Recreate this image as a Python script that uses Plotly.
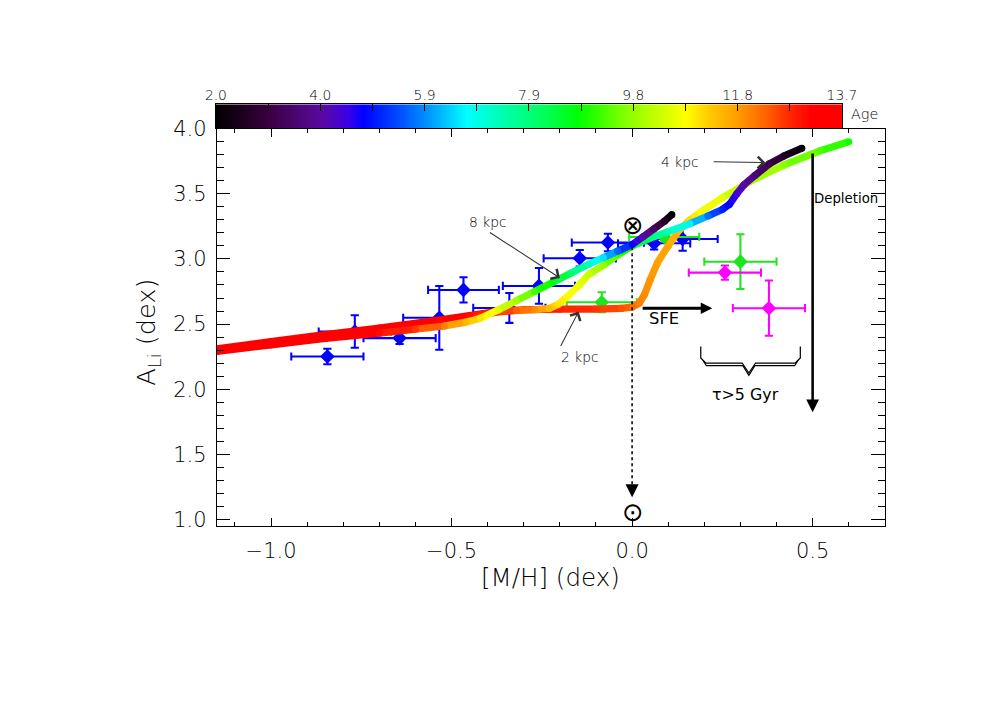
import numpy as np
import plotly.graph_objects as go

FONT = "DejaVu Sans"
W, H = 1000, 706
# the page is photographed slightly scaled/offset: compensate target pixel positions
S, OX, OY = 0.977, 17.5, 19.5


def PX(t):
    return (t - OX) / S / W


def PY(t):
    return 1 - (t - OY) / S / H


def F(sz):
    return sz / S


# ---------------- colour table (age in Gyr) ----------------
AGE_MIN, AGE_MAX = 2.0, 13.7
cs_pos = [0.0, 0.085, 0.17, 0.21, 0.235, 0.295, 0.345, 0.40, 0.47, 0.52, 0.58, 0.65, 0.75, 0.79, 0.83, 0.88, 0.915, 0.95, 1.0]
cs_hex = ['#000000', '#3a0040', '#5a0aa0', '#3c00e6', '#0000ff', '#0050ff', '#00a0ff', '#00ffff',
          '#00ffa0', '#00ff60', '#00ff00', '#80ff00', '#ffff00', '#ffc800', '#ffa000', '#ff6000',
          '#ff2800', '#ff0000', '#ff0000']
colorscale = [[p, c] for p, c in zip(cs_pos, cs_hex)]


def hex2rgb(h):
    h = h.lstrip('#')
    return np.array([int(h[i:i + 2], 16) for i in (0, 2, 4)], dtype=float)


cs_rgb = np.array([hex2rgb(c) for c in cs_hex])


def age_color(age):
    f = (age - AGE_MIN) / (AGE_MAX - AGE_MIN)
    f = min(max(f, 0.0), 1.0)
    rgb = [np.interp(f, cs_pos, cs_rgb[:, k]) for k in range(3)]
    return 'rgb(%d,%d,%d)' % tuple(int(round(v)) for v in rgb)


# ---------------- model tracks ----------------
kpc2_mh = [-1.15, -1.0, -0.85, -0.7, -0.55, -0.45, -0.38, -0.3, -0.2, -0.1, -0.03, 0.0, 0.02, 0.035,
           0.05, 0.07, 0.10, 0.13, 0.16, 0.19, 0.25, 0.33, 0.42, 0.52, 0.60]
kpc2_ali = [2.31, 2.365, 2.42, 2.47, 2.525, 2.565, 2.595, 2.61, 2.615, 2.615, 2.62, 2.63, 2.66, 2.73,
            2.84, 2.97, 3.10, 3.22, 3.30, 3.36, 3.47, 3.60, 3.72, 3.83, 3.90]
kpc2_age = [13.7, 13.7, 13.7, 13.6, 13.5, 13.4, 13.2, 13.0, 12.8, 12.6, 12.4, 12.2, 12.0, 11.9,
            11.8, 11.7, 11.6, 11.4, 11.1, 10.8, 10.5, 10.1, 9.7, 9.3, 8.9]

kpc4_mh = [-1.15, -1.0, -0.85, -0.7, -0.55, -0.45, -0.38, -0.32, -0.27, -0.23, -0.205, -0.18, -0.15,
           -0.12, -0.08, -0.04, 0.0, 0.05, 0.10, 0.16, 0.21, 0.25, 0.27, 0.29, 0.31, 0.34, 0.38, 0.42, 0.47]
kpc4_ali = [2.30, 2.355, 2.41, 2.46, 2.515, 2.56, 2.59, 2.605, 2.61, 2.62, 2.65, 2.71, 2.79,
            2.88, 2.95, 3.03, 3.10, 3.16, 3.21, 3.27, 3.33, 3.38, 3.42, 3.50, 3.57, 3.64, 3.73, 3.79, 3.85]
kpc4_age = [13.7, 13.7, 13.6, 13.5, 13.3, 13.0, 12.7, 12.3, 11.9, 11.4, 11.0, 10.8, 10.6,
            10.3, 9.8, 9.2, 8.7, 8.0, 7.3, 6.6, 5.7, 5.0, 4.7, 4.4, 4.0, 3.6, 3.1, 2.6, 2.0]

kpc8_mh = [-1.15, -1.0, -0.85, -0.7, -0.6, -0.52, -0.46, -0.42, -0.37, -0.32, -0.27, -0.22, -0.17,
           -0.12, -0.08, -0.04, 0.0, 0.03, 0.06, 0.09, 0.11]
kpc8_ali = [2.29, 2.34, 2.39, 2.43, 2.46, 2.485, 2.515, 2.545, 2.61, 2.68, 2.75, 2.82, 2.89,
            2.96, 3.01, 3.06, 3.11, 3.17, 3.23, 3.29, 3.34]
kpc8_age = [13.7, 13.6, 13.4, 13.0, 12.6, 12.0, 11.4, 11.0, 10.5, 9.9, 9.2, 8.7, 8.0,
            7.2, 6.5, 5.6, 4.8, 4.1, 3.4, 2.6, 2.0]

# ---------------- observations ----------------
blue_mh = [-0.844, -0.644, -0.534, -0.768, -0.467, -0.340, -0.258, -0.145, -0.067, 0.061, 0.140]
blue_ali = [2.251, 2.392, 2.548, 2.443, 2.762, 2.624, 2.793, 3.005, 3.126, 3.120, 3.153]
blue_xerr = [0.10, 0.10, 0.10, 0.10, 0.098, 0.10, 0.10, 0.10, 0.10, 0.10, 0.097]
blue_yerr = [0.06, 0.045, 0.245, 0.125, 0.097, 0.115, 0.137, 0.064, 0.067, 0.048, 0.09]

green_mh = [-0.084, 0.089, 0.300]
green_ali = [2.667, 3.169, 2.979]
green_xerr = [0.097, 0.097, 0.10]
green_yerr = [0.077, 0.03, 0.21]

mag_mh = [0.257, 0.379]
mag_ali = [2.895, 2.622]
mag_xerr = [0.10, 0.10]
mag_yerr = [0.054, 0.212]

# colour bar
cb_ticks = [2.0, 3.95, 5.9, 7.85, 9.8, 11.75, 13.7]
cb_labels = ['2.0', '4.0', '5.9', '7.9', '9.8', '11.8', '13.7']

fig = go.Figure()

for xs, ys, ex, ey, col in [(blue_mh, blue_ali, blue_xerr, blue_yerr, '#0000ff'),
                            (green_mh, green_ali, green_xerr, green_yerr, '#1ee61e'),
                            (mag_mh, mag_ali, mag_xerr, mag_yerr, '#ff00ff')]:
    fig.add_trace(go.Scatter(
        x=xs, y=ys, mode='markers',
        marker=dict(symbol='diamond', size=F(11), color=col, line=dict(width=0)),
        error_x=dict(type='data', array=ex, color=col, thickness=F(2), width=F(4)),
        error_y=dict(type='data', array=ey, color=col, thickness=F(2), width=F(4)),
        showlegend=False, hoverinfo='skip'))

for xs, ys, ages in [(kpc2_mh, kpc2_ali, kpc2_age), (kpc4_mh, kpc4_ali, kpc4_age),
                     (kpc8_mh, kpc8_ali, kpc8_age)]:
    for i in range(len(xs) - 1):
        fig.add_trace(go.Scatter(
            x=[xs[i], xs[i + 1]], y=[ys[i], ys[i + 1]], mode='lines',
            line=dict(color=age_color(0.5 * (ages[i] + ages[i + 1])), width=F(7)),
            showlegend=False, hoverinfo='skip'))
    fig.add_trace(go.Scatter(
        x=xs, y=ys, mode='markers',
        marker=dict(size=F(7), color=ages, colorscale=colorscale, cmin=AGE_MIN, cmax=AGE_MAX,
                    line=dict(width=0)),
        showlegend=False, hoverinfo='skip'))

# colour bar drawn as a heatmap strip
cb_z = np.linspace(AGE_MIN, AGE_MAX, 400)
fig.add_trace(go.Heatmap(x=cb_z, y=[0], z=[cb_z], colorscale=colorscale, zmin=AGE_MIN, zmax=AGE_MAX,
                         showscale=False, xaxis='x2', yaxis='y2', hoverinfo='skip'))

TXT = '#000000'
tickfont = dict(family=FONT, size=F(20.5), color=TXT, weight=200)

fig.update_layout(
    width=W, height=H, margin=dict(l=0, r=0, t=0, b=0),
    plot_bgcolor='white', paper_bgcolor='white', showlegend=False,
    xaxis=dict(domain=[PX(216), PX(886)], range=[-1.15, 0.70], tick0=0, dtick=0.5, tickformat='.1f',
               ticks='inside', ticklen=F(8), tickwidth=1, tickcolor='black',
               minor=dict(ticks='inside', ticklen=F(4), tick0=0, dtick=0.1, tickcolor='black', tickwidth=1),
               showline=True, linecolor='black', linewidth=1.3, mirror='ticks',
               showgrid=False, zeroline=False, tickfont=tickfont, ticklabelstandoff=6, anchor='y'),
    yaxis=dict(domain=[PY(526.7), PY(128.5)], range=[0.95, 4.0], tick0=0, dtick=0.5, tickformat='.1f',
               ticks='inside', ticklen=F(13), tickwidth=1, tickcolor='black',
               minor=dict(ticks='inside', ticklen=F(7), tick0=0, dtick=0.1, tickcolor='black', tickwidth=1),
               showline=True, linecolor='black', linewidth=1.3, mirror='ticks',
               showgrid=False, zeroline=False, tickfont=tickfont, ticklabelstandoff=5, anchor='x'),
    xaxis2=dict(domain=[PX(215), PX(843)], range=[AGE_MIN, AGE_MAX], anchor='y2', side='top',
                tickvals=cb_ticks, ticktext=cb_labels, ticks='inside', ticklen=F(6), tickcolor='black',
                minor=dict(ticks='inside', ticklen=F(6), tick0=2.0, dtick=0.975, tickcolor='black'),
                showline=True, linecolor='black', linewidth=1.3, mirror=True, showgrid=False,
                zeroline=False, tickfont=dict(family=FONT, size=F(13.5), color=TXT, weight=200),
                ticklabelstandoff=-2),
    yaxis2=dict(domain=[PY(128), PY(104)], range=[-0.5, 0.5], anchor='x2', showticklabels=False,
                ticks='', showline=True, linecolor='black', linewidth=1.3, mirror=True,
                showgrid=False, zeroline=False),
)

ann = []


def txt(x, y, s, size, xref='x', yref='y', angle=0, color=TXT, weight=200):
    ann.append(dict(x=x, y=y, xref=xref, yref=yref, text=s, showarrow=False, textangle=angle,
                    font=dict(family=FONT, size=F(size), color=color, weight=weight),
                    xanchor='center', yanchor='middle'))


def arrow(x, y, ax, ay, head, width, size, color='black'):
    ann.append(dict(x=x, y=y, ax=ax, ay=ay, xref='x', yref='y', axref='x', ayref='y', text='',
                    showarrow=True, arrowhead=head, arrowwidth=F(width), arrowsize=size,
                    arrowcolor=color, standoff=0, startstandoff=0))


# axis titles
txt(PX(551), PY(578), '[M/H] (dex)', 24, 'paper', 'paper')
txt(PX(147), PY(333), 'A<sub>Li</sub> (dex)', 25, 'paper', 'paper', angle=-90)
txt(PX(866), PY(114), 'Age', 14, 'paper', 'paper')

# labels
txt(0.134, 3.747, '4 kpc', 13.5)
arrow(0.369, 3.74, 0.222, 3.747, 4, 1, 2.2, '#333333')
txt(-0.398, 3.287, '8 kpc', 13.5)
arrow(-0.20, 2.854, -0.398, 3.211, 4, 1, 2.2, '#333333')
txt(-0.145, 2.246, '2 kpc', 13.5)
arrow(-0.148, 2.596, -0.20, 2.32, 4, 1, 2.2, '#333333')

txt(0.089, 2.54, 'SFE', 16, color='black', weight=400)
arrow(0.222, 2.622, 0.025, 2.622, 2, 3, 0.75)

txt(0.592, 3.467, 'Depletion', 13, color='black', weight=400)
arrow(0.5, 1.822, 0.5, 3.822, 2, 2.5, 1.0)

txt(0.314, 1.958, '\u03c4>5 Gyr', 15.5, color='black', weight=400)

# solar symbols
txt(0.0, 3.26, '\u2297', 25, color='black', weight=400)
txt(0.0, 1.054, '\u2299', 25, color='black', weight=400)
arrow(0.0, 1.17, 0.0, 1.24, 2, 1.5, 1.7)

fig.update_layout(annotations=ann)

shapes = [
    dict(type='line', xref='x', yref='y', x0=0.0, y0=3.09, x1=0.0, y1=1.22,
         line=dict(color='black', width=F(1.5), dash='dot')),
    dict(type='path', xref='x', yref='y',
         path='M 0.1902,2.3280 L 0.1902,2.2391 L 0.2040,2.2008 L 0.3049,2.2008 L 0.3234,2.1241 '
              'L 0.3419,2.2008 L 0.4522,2.2008 L 0.4659,2.2391 L 0.4659,2.3280',
         line=dict(color='black', width=F(1.2))),
    dict(type='path', xref='x', yref='y',
         path='M 0.1966,2.2207 L 0.2057,2.1801 L 0.3069,2.1801 L 0.3234,2.1057 '
              'L 0.3400,2.1801 L 0.4502,2.1801 L 0.4593,2.2207',
         line=dict(color='black', width=F(1.2))),
]
fig.update_layout(shapes=shapes)

fig.write_html("out.html")
